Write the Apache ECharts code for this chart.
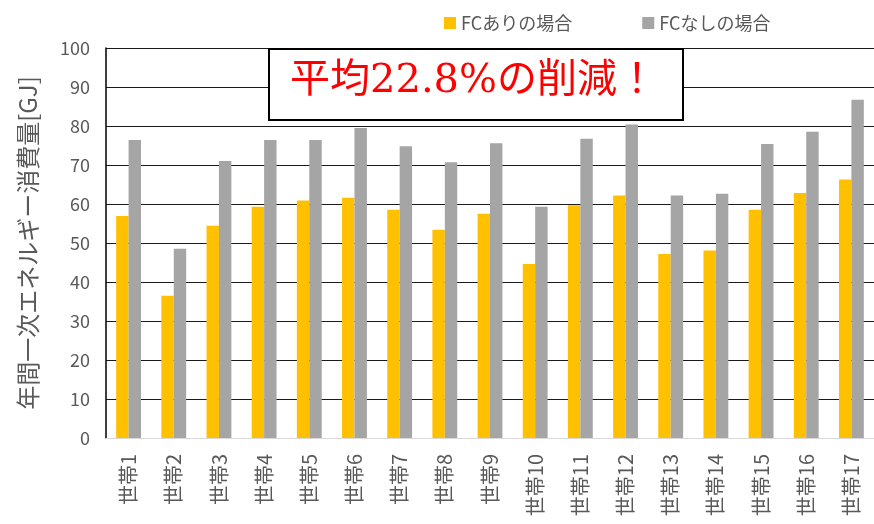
<!DOCTYPE html>
<html>
<head>
<meta charset="utf-8">
<script src="https://cdn.jsdelivr.net/npm/echarts@6/dist/echarts.min.js"></script>
<style>
  html, body { margin: 0; padding: 0; background: #fff; }
  #chart { width: 874px; height: 524px; }
</style>
</head>
<body>
<div id="chart"></div>
<script>
// 世帯ごとの年間一次エネルギー消費量 [GJ]
const households = ['世帯1', '世帯2', '世帯3', '世帯4', '世帯5', '世帯6', '世帯7', '世帯8', '世帯9',
  '世帯10', '世帯11', '世帯12', '世帯13', '世帯14', '世帯15', '世帯16', '世帯17'];
const withFC = [56.9, 36.5, 54.4, 59.3, 60.9, 61.6, 58.5, 53.4, 57.5,
  44.6, 59.7, 62.2, 47.2, 48.1, 58.5, 62.8, 66.3];
const withoutFC = [76.4, 48.5, 71.0, 76.4, 76.4, 79.5, 74.8, 70.7, 75.6,
  59.3, 76.7, 80.4, 62.2, 62.6, 75.4, 78.5, 86.7];
const seriesNames = ['FCありの場合', 'FCなしの場合'];
const note = '平均22.8%の削減！';

const chart = echarts.init(document.getElementById('chart'));
const font = '"Noto Sans CJK JP", "Noto Sans", sans-serif';

const option = {
  animation: false,
  textStyle: { fontFamily: font },
  legend: {
    data: seriesNames,
    left: 439,
    top: 9,
    icon: 'rect',
    itemWidth: 12,
    itemHeight: 12,
    itemGap: 70,
    textStyle: { color: '#595959', fontSize: 18, fontFamily: font }
  },
  grid: { left: 106, right: 0, top: 48, bottom: 86 },
  xAxis: {
    type: 'category',
    data: households,
    axisLine: { lineStyle: { color: '#d9d9d9', width: 1 } },
    axisTick: { show: false },
    axisLabel: {
      rotate: 90,
      interval: 0,
      margin: 16,
      color: '#595959',
      fontSize: 20,
      fontFamily: font
    }
  },
  yAxis: {
    type: 'value',
    min: 0,
    max: 100,
    interval: 10,
    name: '年間一次エネルギー消費量[GJ]',
    nameLocation: 'middle',
    nameGap: 66,
    nameTextStyle: { color: '#595959', fontSize: 24, fontFamily: font },
    axisLine: { show: true, lineStyle: { color: '#000', width: 1.5 } },
    axisTick: { show: false },
    axisLabel: { color: '#595959', fontSize: 18, margin: 16, fontFamily: font },
    splitLine: { lineStyle: { color: '#1a1a1a', width: 1.2 } }
  },
  series: [
    {
      name: seriesNames[0],
      type: 'bar',
      data: withFC,
      barGap: '0%',
      barCategoryGap: '45%',
      itemStyle: { color: '#FFC000' }
    },
    {
      name: seriesNames[1],
      type: 'bar',
      data: withoutFC,
      itemStyle: { color: '#A5A5A5' }
    }
  ],
  graphic: [
    {
      type: 'rect',
      left: 268,
      top: 48,
      shape: { width: 414, height: 71 },
      style: { fill: '#fff', stroke: '#000', lineWidth: 2 },
      z: 100
    },
    {
      type: 'text',
      left: 290,
      top: 62,
      style: {
        text: note,
        fill: '#FF0000',
        fontSize: 40,
        fontFamily: '"DejaVu Serif", "Liberation Serif", "Noto Sans CJK JP", serif'
      },
      z: 101
    }
  ]
};

chart.setOption(option);
</script>
</body>
</html>
